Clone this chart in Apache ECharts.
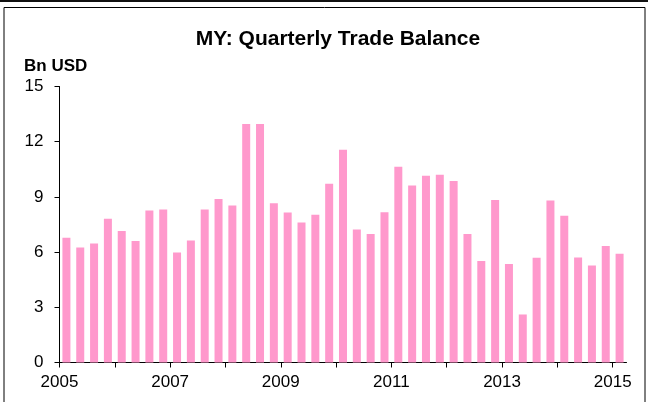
<!DOCTYPE html>
<html>
<head>
<meta charset="utf-8">
<script src="https://cdn.jsdelivr.net/npm/echarts@6/dist/echarts.min.js"></script>
<style>
  html, body { margin: 0; padding: 0; background: #fff; }
  #chart { width: 648px; height: 402px; }
</style>
</head>
<body>
<div id="chart"></div>
<script>
// quarterly trade balance, 2005Q1 .. 2015Q1 (Bn USD)
const startYear = 2005
const quarters = [
  '2005Q1', '2005Q2', '2005Q3', '2005Q4',
  '2006Q1', '2006Q2', '2006Q3', '2006Q4',
  '2007Q1', '2007Q2', '2007Q3', '2007Q4',
  '2008Q1', '2008Q2', '2008Q3', '2008Q4',
  '2009Q1', '2009Q2', '2009Q3', '2009Q4',
  '2010Q1', '2010Q2', '2010Q3', '2010Q4',
  '2011Q1', '2011Q2', '2011Q3', '2011Q4',
  '2012Q1', '2012Q2', '2012Q3', '2012Q4',
  '2013Q1', '2013Q2', '2013Q3', '2013Q4',
  '2014Q1', '2014Q2', '2014Q3', '2014Q4',
  '2015Q1'
]
const balance = [
  6.78, 6.25, 6.47, 7.81,
  7.14, 6.60, 8.26, 8.32,
  5.98, 6.63, 8.32, 8.89,
  8.53, 12.96, 12.96, 8.66,
  8.15, 7.61, 8.03, 9.71,
  11.56, 7.23, 6.99, 8.17,
  10.64, 9.62, 10.15, 10.20,
  9.86, 6.98, 5.51, 8.83,
  5.36, 2.61, 5.69, 8.81,
  7.97, 5.71, 5.27, 6.33,
  5.91
]
const tickYears = [2005, 2006, 2007, 2008, 2009, 2010, 2011, 2012, 2013, 2014, 2015]
const labelYears = [2005, 2007, 2009, 2011, 2013, 2015]

// each quarter sits in the middle of its quarter-year slot
const barData = quarters.map((q, i) => [startYear + i * 0.25 + 0.125, balance[i]])

const chart = echarts.init(document.getElementById('chart'))

const option = {
  animation: false,
  grid: { left: 59.5, right: 21.5, top: 86.5, bottom: 39.5 },
  xAxis: {
    type: 'value',
    min: startYear,
    max: startYear + quarters.length * 0.25,
    splitLine: { show: false },
    axisLine: { show: true, lineStyle: { color: '#000', width: 1 } },
    axisTick: { show: true, length: 5, customValues: tickYears, lineStyle: { color: '#000' } },
    axisLabel: {
      customValues: labelYears,
      margin: 11,
      color: '#000',
      fontFamily: 'Liberation Sans, Arial, sans-serif',
      fontSize: 17,
      formatter: (v) => String(v)
    }
  },
  yAxis: {
    type: 'value',
    min: 0,
    max: 15,
    interval: 3,
    splitLine: { show: false },
    axisLine: { show: true, lineStyle: { color: '#000', width: 1 } },
    axisTick: { show: true, length: 5, lineStyle: { color: '#000' } },
    axisLabel: {
      margin: 16,
      color: '#000',
      fontFamily: 'Liberation Sans, Arial, sans-serif',
      fontSize: 17
    }
  },
  series: [
    {
      type: 'bar',
      data: barData,
      barWidth: 8,
      itemStyle: { color: '#FF99CC' }
    }
  ],
  graphic: [
    { type: 'rect', shape: { x: 0, y: 0, width: 648, height: 2 }, style: { fill: '#111' } },
    { type: 'rect', shape: { x: 4, y: 7.5, width: 641, height: 410 }, style: { fill: 'none', stroke: '#000', lineWidth: 1 } },
    {
      type: 'text', x: 338, y: 29,
      style: {
        text: 'MY: Quarterly Trade Balance',
        textAlign: 'center',
        fill: '#000',
        font: 'bold 21px Liberation Sans, Arial, sans-serif'
      }
    },
    {
      type: 'text', x: 24, y: 58,
      style: {
        text: 'Bn USD',
        fill: '#000',
        font: 'bold 17px Liberation Sans, Arial, sans-serif'
      }
    }
  ]
}

chart.setOption(option)
window.addEventListener('resize', () => chart.resize())
</script>
</body>
</html>
